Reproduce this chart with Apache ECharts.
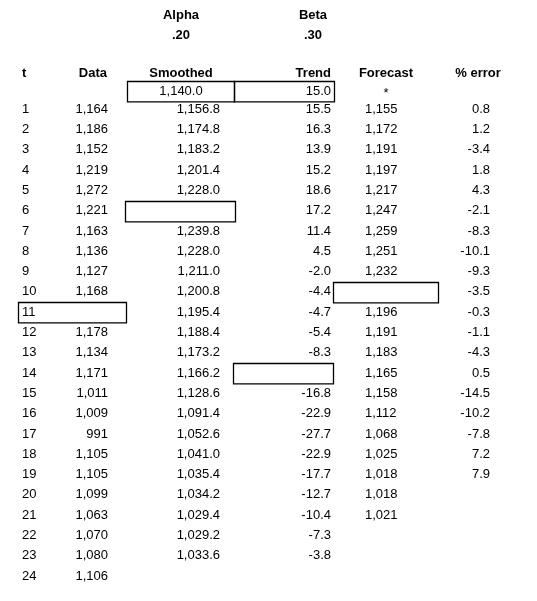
<!DOCTYPE html>
<html><head><meta charset="utf-8">
<script src="https://cdn.jsdelivr.net/npm/echarts@6/dist/echarts.min.js"></script>
<style>html,body{margin:0;padding:0;background:#fff}#c{width:537px;height:601px}</style>
</head><body><div id="c"></div>
<script>
const tVals = [1,2,3,4,5,6,7,8,9,10,11,12,13,14,15,16,17,18,19,20,21,22,23,24];
const dataVals = ["1,164","1,186","1,152","1,219","1,272","1,221","1,163","1,136","1,127","1,168",null,"1,178","1,134","1,171","1,011","1,009","991","1,105","1,105","1,099","1,063","1,070","1,080","1,106"];
const smoothedVals = ["1,156.8","1,174.8","1,183.2","1,201.4","1,228.0",null,"1,239.8","1,228.0","1,211.0","1,200.8","1,195.4","1,188.4","1,173.2","1,166.2","1,128.6","1,091.4","1,052.6","1,041.0","1,035.4","1,034.2","1,029.4","1,029.2","1,033.6",null];
const trendVals = ["15.5","16.3","13.9","15.2","18.6","17.2","11.4","4.5","-2.0","-4.4","-4.7","-5.4","-8.3",null,"-16.8","-22.9","-27.7","-22.9","-17.7","-12.7","-10.4","-7.3","-3.8",null];
const forecastVals = ["1,155","1,172","1,191","1,197","1,217","1,247","1,259","1,251","1,232",null,"1,196","1,191","1,183","1,165","1,158","1,112","1,068","1,025","1,018","1,018","1,021",null,null,null];
const errorVals = ["0.8","1.2","-3.4","1.8","4.3","-2.1","-8.3","-10.1","-9.3","-3.5","-0.3","-1.1","-4.3","0.5","-14.5","-10.2","-7.8","7.2","7.9",null,null,null,null,null];
const headers = ["t","Data","Smoothed","Trend","Forecast","% error"];
const params = [["Alpha",".20"],["Beta",".30"]];
const initRow = ["1,140.0","15.0","*"];
const boxes = [[0.1,"s0"],[0.1,"tr0"],[6,"s"],[10,"f"],[11,"d"],[14,"tr"]];

const colX = {t:[22,'left'],d:[108,'right'],s:[220,'right'],tr:[331,'right'],f:[365,'left'],e:[490,'right']};
const boxX = {s0:[127,234],tr0:[234,334],s:[125,235],f:[333,438],d:[18,126],tr:[233,333]};

const texts = [];
function add(x,row,txt,align,bold){ if(txt!=null) texts.push({x,row,txt,align,bold}); }
add(181,-3.62,params[0][0],'center',true); add(181,-2.62,params[0][1],'center',true);
add(313,-3.62,params[1][0],'center',true); add(313,-2.62,params[1][1],'center',true);
const hdr=[[22,'left'],[107,'right'],[181,'center'],[331,'right'],[386,'center'],[478,'center']];
headers.forEach((h,i)=>add(hdr[i][0],-0.75,h,hdr[i][1],true));
add(181,0.1,initRow[0],'center'); add(331,0.1,initRow[1],'right'); add(386,0.2,initRow[2],'center');
tVals.forEach((t,i)=>{
  add(colX.t[0],t,String(t),'left');
  add(colX.d[0],t,dataVals[i],'right');
  add(colX.s[0],t,smoothedVals[i],'right');
  add(colX.tr[0],t,trendVals[i],'right');
  add(colX.f[0],t,forecastVals[i],'left');
  add(colX.e[0],t,errorVals[i],'right');
});

const chart = echarts.init(document.getElementById('c'));
chart.setOption({
  animation:false,
  grid:{left:0,right:0,top:0,bottom:0},
  xAxis:{type:'value',min:0,max:537,show:false},
  yAxis:{type:'value',min:-4.38,max:25.23,inverse:true,show:false},
  series:[
    {type:'custom',data:boxes.map(b=>[boxX[b[1]][0],b[0],boxX[b[1]][1]]),
     renderItem:(p,api)=>{
       const a=api.coord([api.value(0),api.value(1)-0.5]);
       const b=api.coord([api.value(2),api.value(1)+0.5]);
       return {type:'rect',shape:{x:Math.round(a[0])+0.5,y:Math.round(a[1])+0.5,width:b[0]-a[0],height:b[1]-a[1]},
         style:{fill:null,stroke:'#000',lineWidth:1.3}};
     }},
    {type:'custom',data:texts.map(t=>[t.x,t.row]),
     renderItem:(p,api)=>{
       const t=texts[p.dataIndex];
       const c=api.coord([api.value(0),api.value(1)]);
       return {type:'text',x:c[0],y:c[1],style:{text:t.txt,textAlign:t.align,textVerticalAlign:'middle',
         fill:'#000',font:(t.bold?'bold ':'')+'13px "Liberation Sans", Arial, sans-serif'}};
     }}
  ]
});
</script></body></html>
